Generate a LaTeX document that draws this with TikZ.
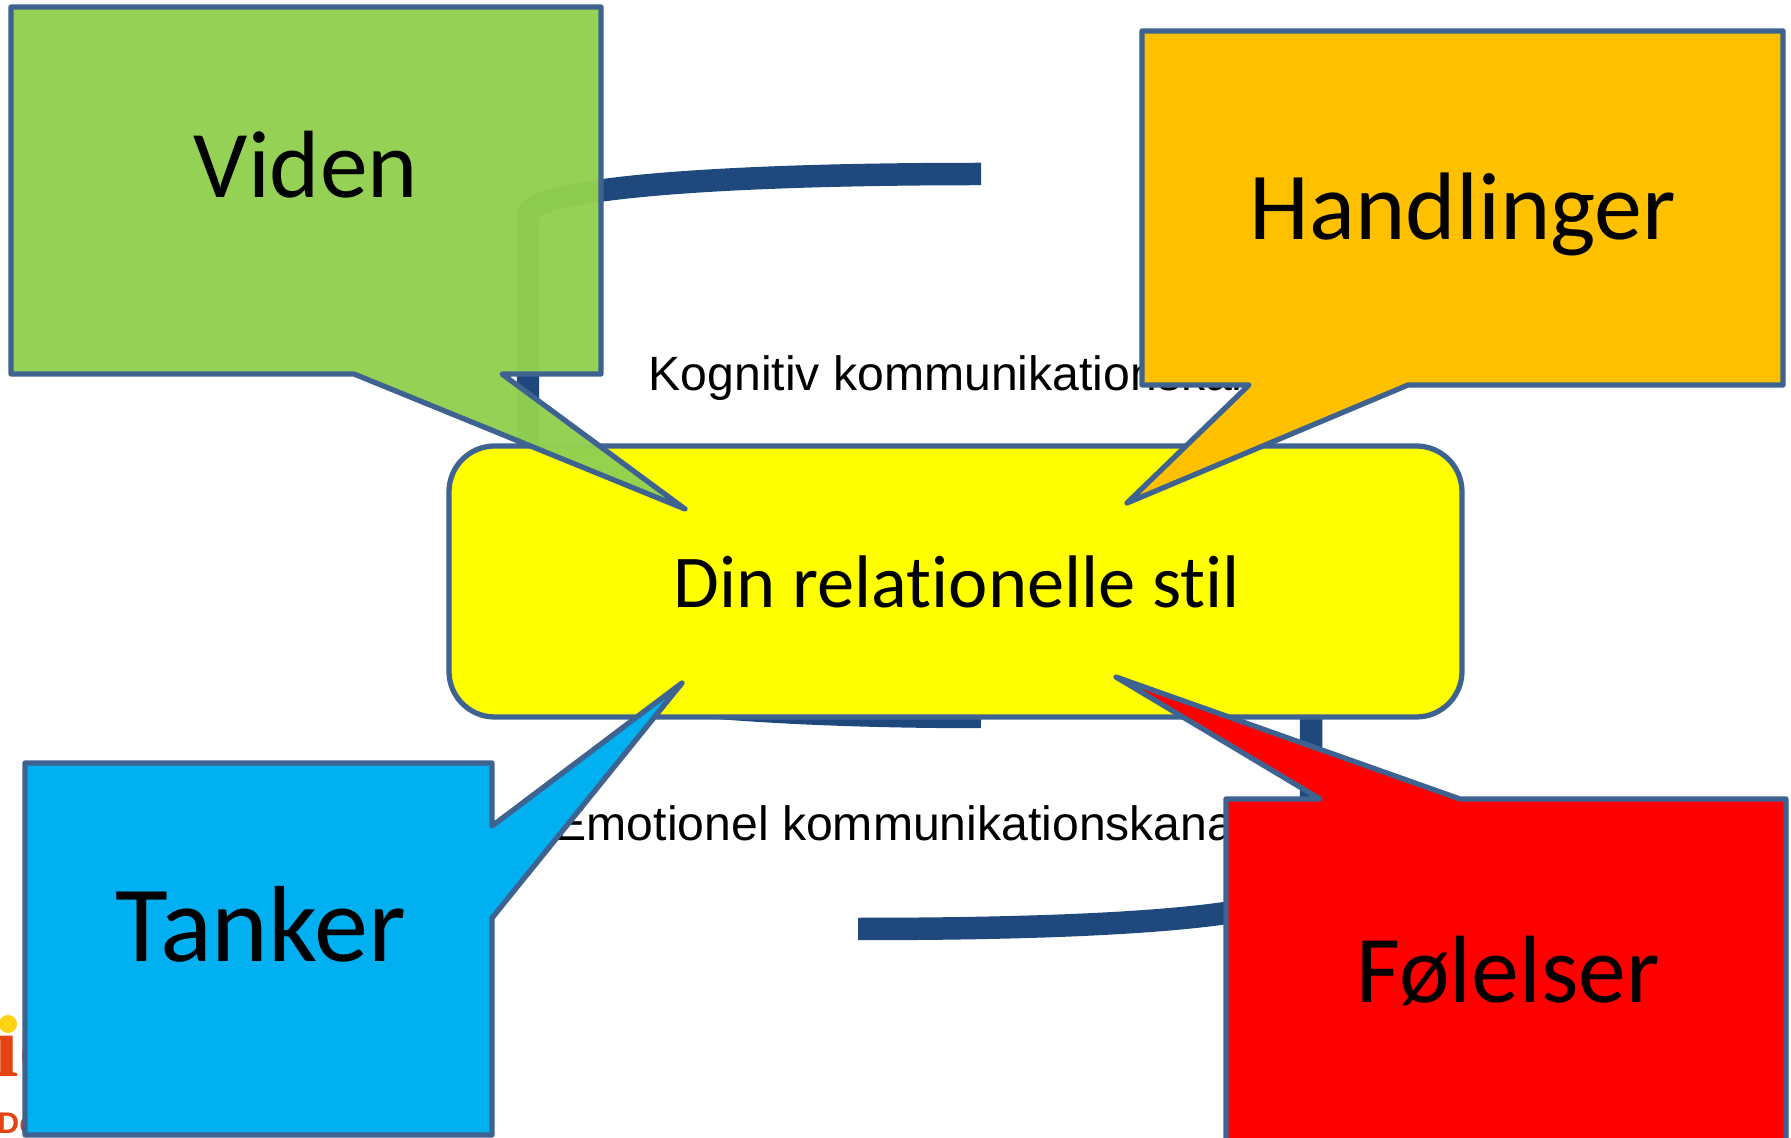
\documentclass[tikz,border=0pt]{standalone}
\usepackage{fontspec}
\setmainfont{Carlito}[Ligatures=NoCommon]
\newfontfamily\channelfont{Liberation Sans}
\newfontfamily\logofont{Liberation Serif}
\definecolor{edgeblue}{HTML}{3E6391}
\definecolor{pipeblue}{HTML}{1F497D}
\definecolor{logored}{HTML}{E2430F}
\definecolor{logodot}{HTML}{FFD20F}
\definecolor{boxyellow}{HTML}{FFFF00}
\definecolor{boxgreen}{HTML}{92D050}
\definecolor{boxorange}{HTML}{FFC000}
\definecolor{boxblue}{HTML}{00B0F0}
\definecolor{boxred}{HTML}{FF0000}
\begin{document}
\begin{tikzpicture}[scale=0.1]
\tikzstyle{every node}+=[inner sep=0pt]
\tikzstyle{callout}=[draw=edgeblue,line width=1.5pt,line join=round]
\tikzstyle{word}=[anchor=base,font=\fontsize{27.2}{32}\selectfont]
\tikzstyle{channel}=[anchor=base west,font=\channelfont\fontsize{13.7}{16}\selectfont]
\tikzstyle{pipe}=[draw=pipeblue,line width=6.4pt]
\useasboundingbox (0,0) rectangle (179.1,-113.8);
\clip (0,0) rectangle (179.1,-113.8);
\node [anchor=base west,text=logored,font=\logofont\bfseries\fontsize{25}{30}\selectfont] (logoword) at (-0.6,-107.7) {\i c};
\fill [logodot] (0.8,-102.4) circle (0.9);
\node [anchor=base west,text=logored,font=\channelfont\bfseries\fontsize{8.5}{10}\selectfont] (logoline) at (-0.3,-113.4) {De};
\draw [pipe] (98.1,-17.4) .. controls (70,-17.4) and (52.8,-19) .. (52.8,-21.5) -- (52.8,-66) .. controls (52.8,-70) and (76,-71.7) .. (98.1,-71.7);
\draw [pipe] (85.8,-92.9) .. controls (110,-92.9) and (131.1,-91.8) .. (131.1,-88) -- (131.1,-70);
\node [channel] (kognitiv) at (64.8,-39.1) {Kognitiv kommunikationskanal};
\node [channel] (emotionel) at (55.4,-84.1) {Emotionel kommunikationskanal};
\draw [callout,fill=boxyellow,rounded corners=13pt] (44.9,-44.6) rectangle (146.2,-71.7);
\node [word,font=\fontsize{21.2}{25}\selectfont] (stil) at (95.7,-60.8) {Din relationelle stil};
\draw [callout,fill=boxgreen,fill opacity=0.97] (1.1,-0.7) -- (60.1,-0.7) -- (60.1,-37.4) -- (50.2,-37.4) -- (68.5,-50.9) -- (35.4,-37.4) -- (1.1,-37.4) -- cycle;
\node [word] (viden) at (30.6,-19.8) {Viden};
\draw [callout,fill=boxorange] (114.2,-3.1) -- (178.3,-3.1) -- (178.3,-38.5) -- (140.8,-38.5) -- (112.7,-50.3) -- (124.9,-38.5) -- (114.2,-38.5) -- cycle;
\node [word,font=\fontsize{27.3}{32}\selectfont] (handlinger) at (146.3,-24) {Handlinger};
\draw [callout,fill=boxblue] (2.5,-76.3) -- (49.2,-76.3) -- (49.2,-82.6) -- (68.2,-68.3) -- (49.2,-91.8) -- (49.2,-113.5) -- (2.5,-113.5) -- cycle;
\node [word,font=\fontsize{30.8}{36}\selectfont] (tanker) at (26.1,-96.2) {Tanker};
\draw [callout,fill=boxred] (122.6,-79.9) -- (132,-79.9) -- (111.6,-67.7) -- (146,-79.9) -- (178.6,-79.9) -- (178.6,-115) -- (122.6,-115) -- cycle;
\node [word] (foelelser) at (150.8,-100.3) {Følelser};
\end{tikzpicture}
\end{document}
